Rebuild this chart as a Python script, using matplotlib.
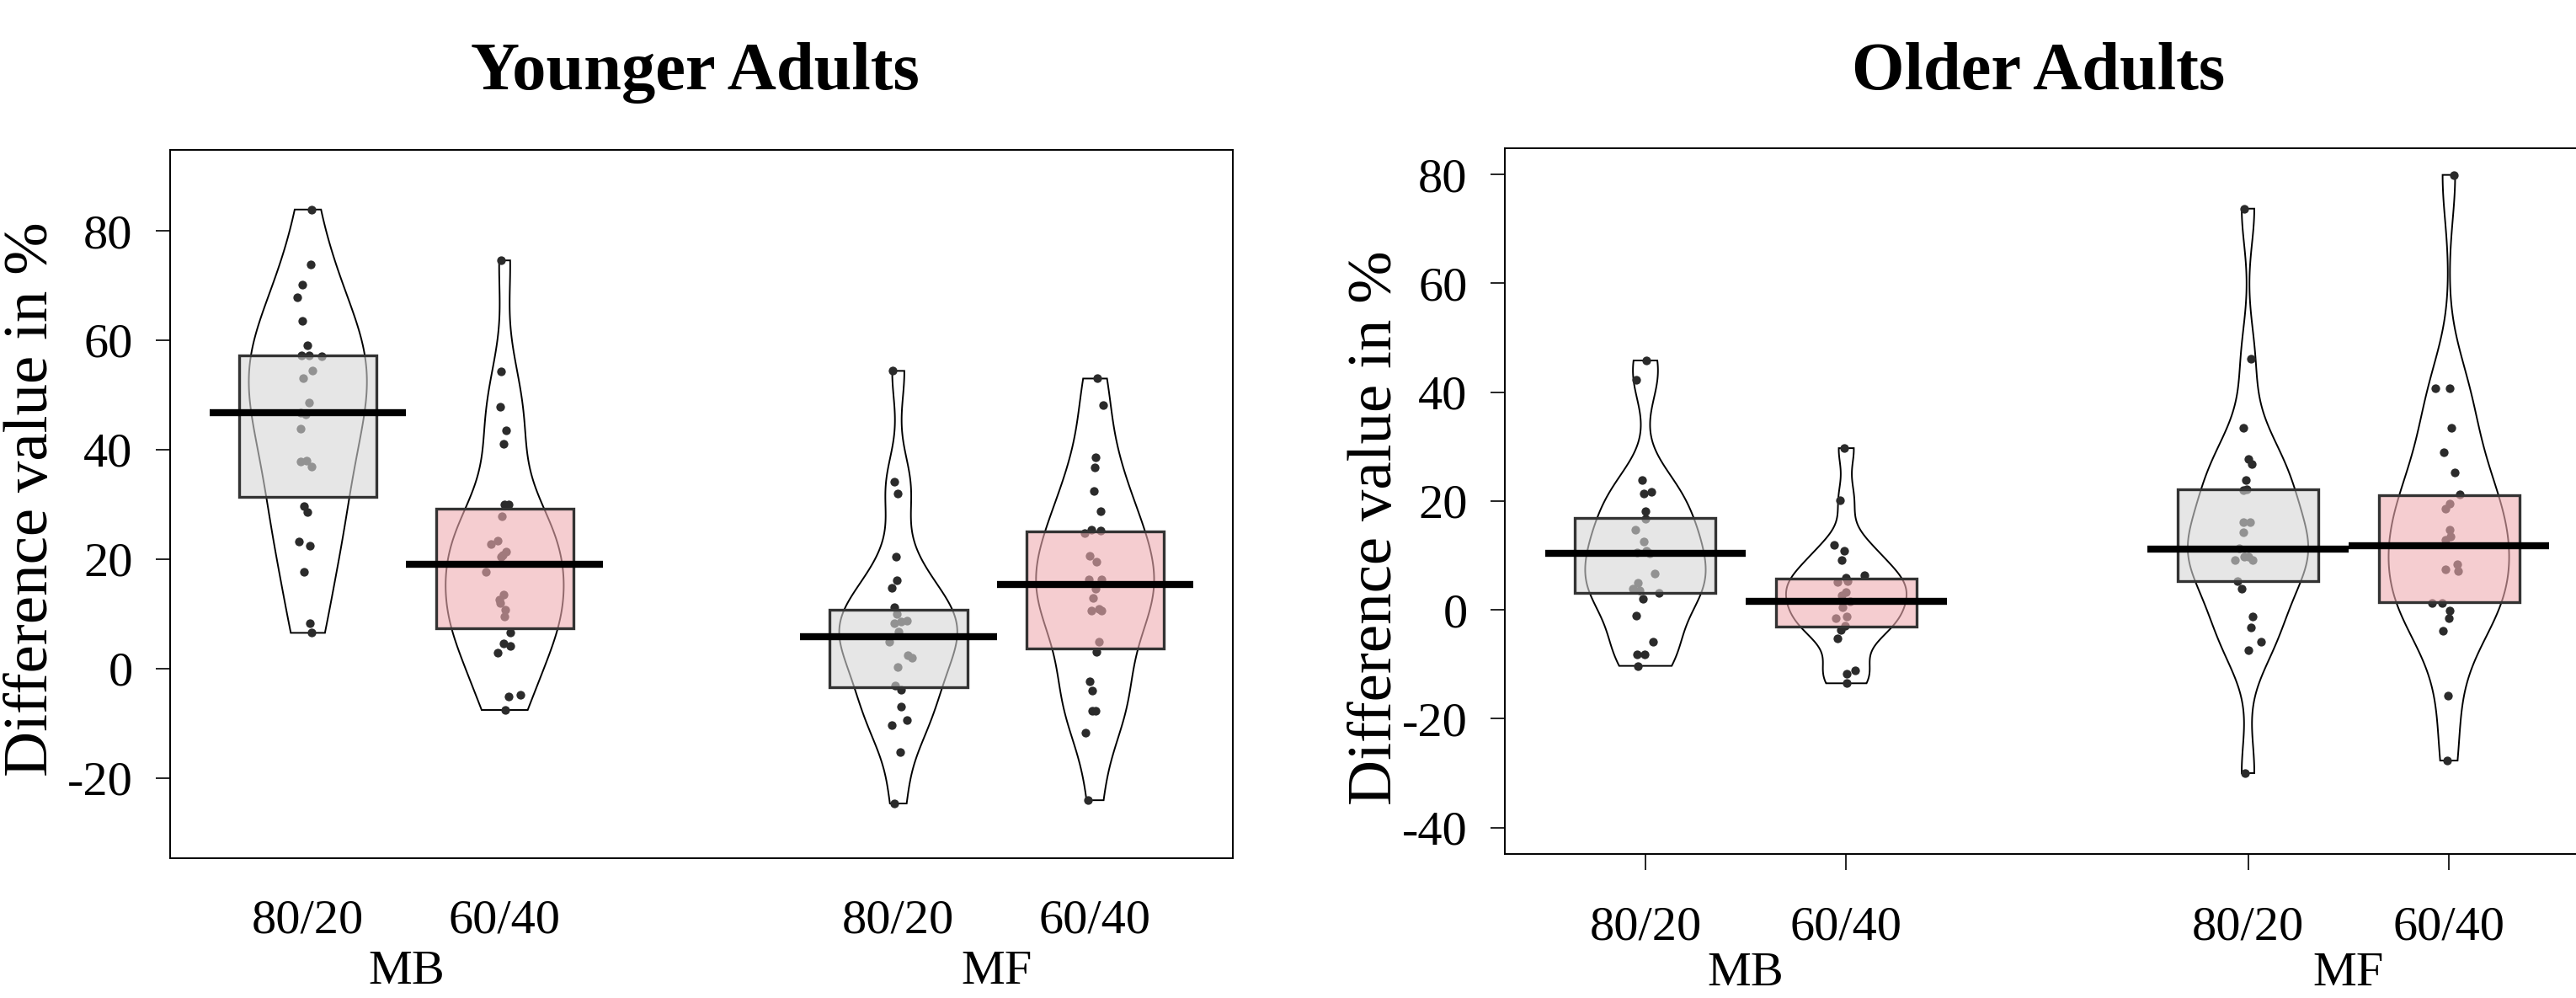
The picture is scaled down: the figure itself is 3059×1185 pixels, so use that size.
import numpy as np
import matplotlib
matplotlib.use("Agg")
import matplotlib.pyplot as plt
from matplotlib.patches import Rectangle
from matplotlib.transforms import blended_transform_factory

plt.rcParams['font.family'] = ['Liberation Serif', 'DejaVu Serif']

W, H = 3059, 1185

conditions = ["80/20", "60/40", "80/20", "60/40"]
systems = ["MB", "MF"]
positions = [1, 2, 4, 5]
box_fills = ["#D6D6D6", "#EFADB2", "#D6D6D6", "#EFADB2"]

# ---- younger adults: individual difference values (%) ----
young_mb_8020 = [83.9, 73.9, 70.1, 67.8, 63.6, 59.0, 57.3, 57.3, 57.0, 54.4, 53.0, 48.6, 46.8,
                 46.5, 43.8, 37.9, 38.0, 36.9, 29.6, 28.6, 23.2, 22.4, 17.6, 8.2, 6.5]
young_mb_6040 = [74.6, 54.3, 47.8, 43.5, 41.1, 30.0, 29.9, 27.8, 22.8, 23.4, 21.4, 20.7, 20.4,
                 17.7, 13.5, 12.6, 12.0, 10.8, 9.5, 6.5, 4.6, 4.1, 2.9, -5.1, -4.9, -7.6]
young_mf_8020 = [54.4, 34.1, 32.0, 20.5, 16.1, 14.8, 11.2, 10.0, 8.3, 8.5, 8.8, 6.7, 4.8,
                 2.4, 2.0, 0.3, -3.1, -3.9, -7.0, -10.3, -9.5, -15.3, -24.7]
young_mf_6040 = [53.0, 48.2, 38.6, 36.7, 32.4, 28.7, 24.8, 25.3, 25.2, 20.6, 19.5, 16.2, 16.3,
                 14.6, 12.9, 10.5, 10.9, 10.5, 4.8, 3.1, -2.4, -4.1, -7.8, -7.8, -11.7, -24.1]
young_means = [46.7, 19.0, 5.8, 15.4]
young_box_lo = [31.3, 7.4, -3.4, 3.6]
young_box_hi = [57.3, 29.2, 10.8, 25.1]

# ---- older adults ----
old_mb_8020 = [45.8, 42.2, 23.8, 21.4, 21.6, 18.1, 16.7, 14.7, 12.6, 10.5, 10.8, 10.3, 6.7,
               5.0, 3.9, 3.6, 3.1, 2.0, -1.1, -5.8, -8.2, -8.2, -10.3]
old_mb_6040 = [29.7, 20.2, 11.9, 10.9, 9.1, 6.3, 5.9, 5.1, 5.3, 3.2, 2.6, 1.5, 0.5,
               -1.2, -1.6, -3.0, -3.7, -5.2, -11.2, -11.7, -13.5]
old_mf_8020 = [73.7, 46.1, 33.5, 27.7, 26.7, 23.9, 22.0, 22.2, 16.1, 16.1, 14.3, 11.3, 9.2,
               9.7, 9.7, 9.2, 5.2, 3.9, -1.2, -3.2, -5.8, -7.4, -30.0]
old_mf_6040 = [79.9, 40.7, 40.7, 33.4, 29.0, 25.2, 21.2, 19.5, 18.6, 14.7, 13.4, 12.9, 7.5,
               8.3, 7.1, 1.3, 1.3, -0.2, -1.6, -3.9, -15.8, -27.7]
old_means = [10.4, 1.6, 11.1, 11.7]
old_box_lo = [3.1, -3.1, 5.2, 1.4]
old_box_hi = [16.8, 5.8, 22.2, 21.0]

# horizontal jitter of the dots (x units)
young_jitter = [
    [0.017, 0.015, -0.030, -0.056, -0.030, -0.001, -0.032, 0.005, 0.069, 0.025, -0.024, 0.006, -0.038,
     -0.013, -0.038, -0.038, -0.006, 0.017, -0.018, -0.003, -0.047, 0.012, -0.020, 0.011, 0.019],
    [-0.018, -0.018, -0.024, 0.007, -0.006, -0.001, 0.022, -0.013, -0.071, -0.036, 0.009, -0.010, -0.018,
     -0.097, -0.006, -0.028, -0.022, 0.005, -0.003, 0.030, -0.006, 0.027, -0.035, 0.021, 0.080, 0.004],
    [-0.028, -0.021, -0.005, -0.012, -0.008, -0.031, -0.021, -0.008, -0.021, 0.016, 0.046, 0.000, -0.045,
     0.048, 0.071, -0.002, -0.015, 0.016, 0.013, -0.034, 0.042, 0.009, -0.018],
    [0.012, 0.040, 0.003, -0.003, -0.006, 0.030, -0.054, -0.017, 0.030, -0.026, 0.007, -0.030, 0.033,
     0.003, -0.010, -0.017, 0.021, 0.033, 0.021, 0.007, -0.026, -0.016, -0.014, 0.003, -0.048, -0.037],
]
old_jitter = [
    [0.004, -0.047, -0.015, -0.008, 0.028, 0.001, 0.001, -0.051, -0.008, -0.041, 0.004, 0.022, 0.045,
     -0.036, -0.064, -0.031, 0.067, -0.014, -0.047, 0.039, -0.041, -0.004, -0.036],
    [-0.010, -0.033, -0.059, -0.010, -0.021, 0.092, -0.004, -0.043, 0.007, -0.003, -0.025, 0.018, -0.020,
     0.001, -0.054, -0.008, -0.029, -0.046, 0.043, 0.001, 0.003],
    [-0.021, 0.015, -0.025, 0.004, 0.018, -0.010, -0.025, -0.005, -0.024, 0.010, -0.024, -0.045, -0.064,
     -0.017, 0.000, 0.022, -0.051, -0.031, 0.021, 0.015, 0.067, 0.000, -0.015],
    [0.026, -0.067, 0.004, 0.013, -0.024, 0.028, 0.056, 0.005, -0.017, 0.005, 0.007, -0.017, -0.015,
     0.043, 0.045, -0.084, -0.035, 0.004, 0.000, -0.031, -0.005, -0.010],
]


def density(vals):
    # gaussian kde with R's bw.nrd0, cut at the data range
    v = np.asarray(vals, float)
    sd = v.std(ddof=1)
    q75, q25 = np.percentile(v, [75, 25])
    bw = 0.9 * min(sd, (q75 - q25) / 1.34) * len(v) ** -0.2
    ys = np.linspace(v.min(), v.max(), 300)
    d = np.exp(-0.5 * ((ys[:, None] - v[None, :]) / bw) ** 2).sum(axis=1)
    return ys, d / d.max()


def pirate(ax, x, vals, jit, mean, lo, hi, fill):
    ys, d = density(vals)
    w = d * 0.30
    ax.fill(np.concatenate([x - w, (x + w)[::-1]]), np.concatenate([ys, ys[::-1]]),
            facecolor='none', edgecolor='black', lw=1.4, zorder=1)
    ax.scatter(x + np.array(jit), vals, s=55, color='#2b2b2b', lw=0, zorder=2)
    ax.add_patch(Rectangle((x - 0.35, lo), 0.7, hi - lo, facecolor=fill, alpha=0.607,
                           edgecolor='none', zorder=3))
    ax.add_patch(Rectangle((x - 0.35, lo), 0.7, hi - lo, facecolor='none',
                           edgecolor='#333333', lw=2.4, zorder=4))
    ax.plot([x - 0.5, x + 0.5], [mean, mean], color='black', lw=6,
            solid_capstyle='butt', zorder=5)


fig = plt.figure(figsize=(W / 100, H / 100), dpi=100)

def fx(px):
    return px / W

def fy(py):
    return 1 - py / H

panels = [
    dict(rect=[fx(202), fy(1019), 1262 / W, 841 / H], ylim=(-34.7, 94.8),
         yticks=[-20, 0, 20, 40, 60, 80], groups=[young_mb_8020, young_mb_6040, young_mf_8020, young_mf_6040],
         jitter=young_jitter, means=young_means, lo=young_box_lo, hi=young_box_hi,
         xticks=False, cond_y=(1019 - 1108) / 841, sys_y=(1019 - 1168) / 841,
         title="Younger Adults", title_x=825, ylab=(56, 922)),
    dict(rect=[fx(1787), fy(1013.6), 1288 / W, 837.6 / H], ylim=(-44.8, 84.8),
         yticks=[-40, -20, 0, 20, 40, 60, 80], groups=[old_mb_8020, old_mb_6040, old_mf_8020, old_mf_6040],
         jitter=old_jitter, means=old_means, lo=old_box_lo, hi=old_box_hi,
         xticks=True, cond_y=(1013.6 - 1115) / 837.6, sys_y=(1013.6 - 1170) / 837.6,
         title="Older Adults", title_x=2421, ylab=(1652, 956)),
]

for p in panels:
    ax = fig.add_axes(p['rect'])
    for i, x in enumerate(positions):
        pirate(ax, x, p['groups'][i], p['jitter'][i], p['means'][i], p['lo'][i], p['hi'][i], box_fills[i])
    ax.set_xlim(0.3, 5.7)
    ax.set_ylim(*p['ylim'])
    ax.set_yticks(p['yticks'])
    ax.set_yticklabels([str(t) for t in p['yticks']])
    ax.tick_params(axis='y', length=12, width=1.2, pad=20, labelsize=42)
    if p['xticks']:
        ax.set_xticks(positions)
        ax.tick_params(axis='x', length=14, width=1.2, labelbottom=False)
    else:
        ax.set_xticks([])
    for s in ax.spines.values():
        s.set_linewidth(1.4)
    tr = blended_transform_factory(ax.transData, ax.transAxes)
    for x, c in zip(positions, conditions):
        ax.text(x, p['cond_y'], c, transform=tr, ha='center', va='baseline', fontsize=42)
    for x, s in zip([1.5, 4.5], systems):
        ax.text(x, p['sys_y'], s, transform=tr, ha='center', va='baseline', fontsize=42)
    fig.text(fx(p['title_x']), fy(106), p['title'], ha='center', va='baseline',
             fontsize=58, fontweight='bold')
    fig.text(fx(p['ylab'][0]), fy(p['ylab'][1]), "Difference value in %", rotation=90,
             rotation_mode='anchor', ha='left', va='baseline', fontsize=54)

fig.savefig("out.png", dpi=100)
